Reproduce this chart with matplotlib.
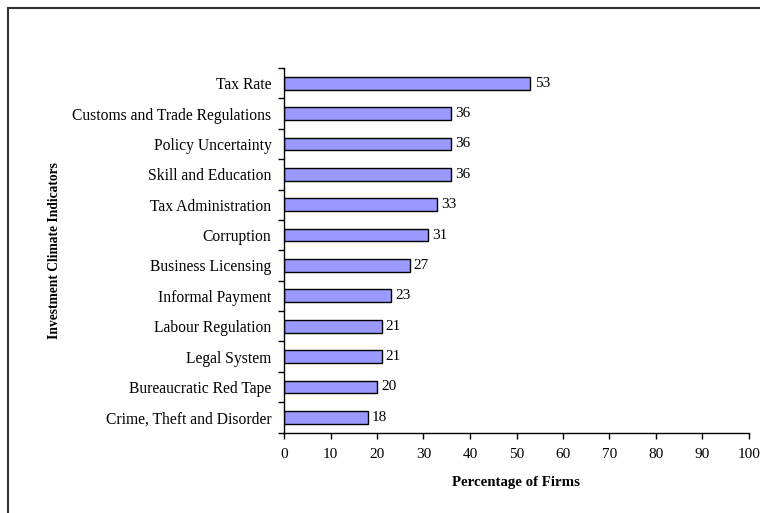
import numpy as np
import matplotlib
matplotlib.use("Agg")
import matplotlib.pyplot as plt
from matplotlib.lines import Line2D

indicators = ["Tax Rate", "Customs and Trade Regulations", "Policy Uncertainty",
              "Skill and Education", "Tax Administration", "Corruption",
              "Business Licensing", "Informal Payment", "Labour Regulation",
              "Legal System", "Bureaucratic Red Tape", "Crime, Theft and Disorder"]
firms_pct = [53, 36, 36, 36, 33, 31, 27, 23, 21, 21, 20, 18]
x_ticks = list(range(0, 101, 10))

plt.rcParams['font.family'] = ['Liberation Serif', 'DejaVu Serif']
plt.rcParams['font.size'] = 10.5

fig = plt.figure(figsize=(7.6, 5.13), dpi=100)
ax = fig.add_axes([284 / 760, 1 - 432.5 / 513, (749 - 284) / 760, (432.5 - 68) / 513])

# top category drawn at the top
pos = np.arange(len(indicators))[::-1]
ax.barh(pos, firms_pct, height=0.42, color="#9999FF", edgecolor="black", linewidth=1.0)
for y, v in zip(pos, firms_pct):
    ax.annotate(f"{v}", xy=(v, y), xytext=(3, 0), textcoords="offset points",
                va="center", ha="left", fontsize=11)

ax.set_xlim(0, 100)
ax.set_ylim(-0.5, len(indicators) - 0.5)
ax.set_xticks(x_ticks)
ax.set_yticks(pos)
ax.set_yticklabels(indicators, fontsize=11.25)
ax.set_yticks(np.arange(len(indicators) + 1) - 0.5, minor=True)
ax.tick_params(axis="y", which="major", length=0, pad=9)
ax.tick_params(axis="y", which="minor", length=4, width=1.0, direction="out")
ax.tick_params(axis="x", length=4, width=1.0, direction="out", pad=7, labelsize=11)

for side in ["top", "right"]:
    ax.spines[side].set_visible(False)
for side in ["left", "bottom"]:
    ax.spines[side].set_linewidth(1.0)

ax.set_xlabel("Percentage of Firms", fontweight="bold", fontsize=10.75, labelpad=11)
ax.set_ylabel("Investment Climate Indicators", fontweight="bold", fontsize=9.75, labelpad=8)

# outer chart-area border (left and top edges)
fx = 7.5 / 760
fy = 1 - 7.5 / 513
fig.add_artist(Line2D([fx, fx], [0, fy], transform=fig.transFigure, color="#333333", lw=1.5))
fig.add_artist(Line2D([fx, 1], [fy, fy], transform=fig.transFigure, color="#333333", lw=1.5))

fig.savefig("out.png", dpi=100)
